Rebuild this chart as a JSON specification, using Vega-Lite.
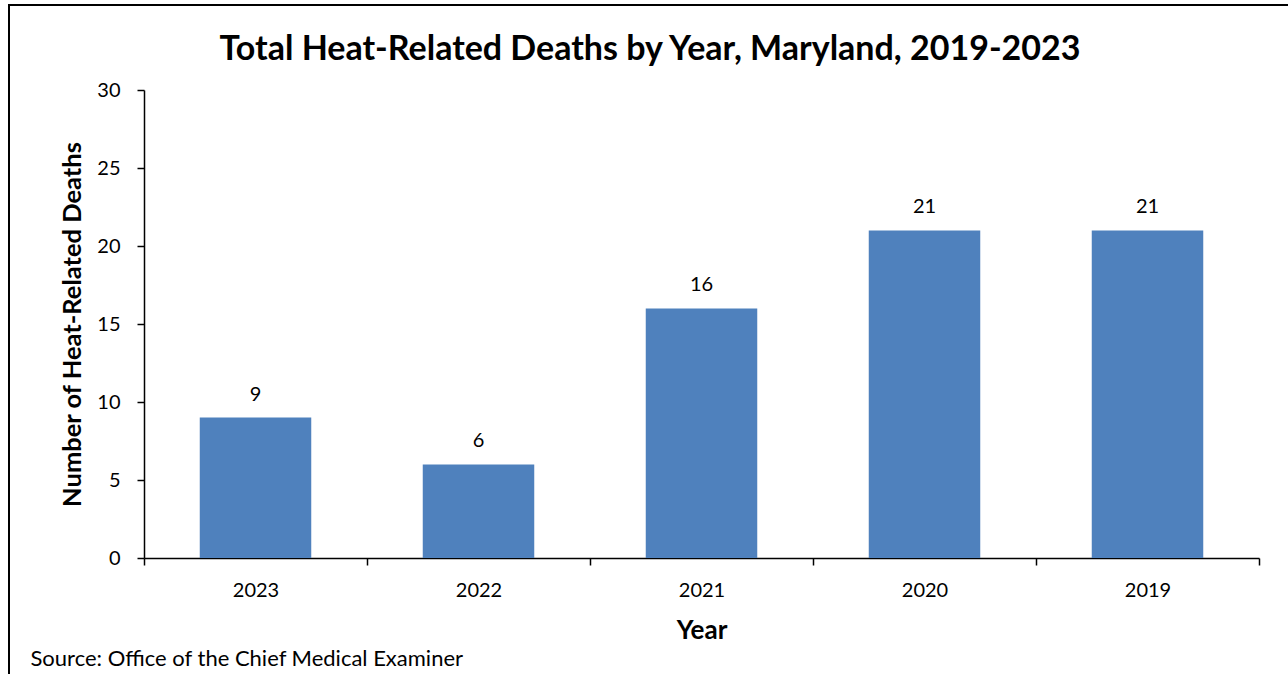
{
  "$schema": "https://vega.github.io/schema/vega-lite/v6.json",
  "autosize": "none",
  "width": 1300,
  "height": 700,
  "padding": {"left": 9, "top": 5, "right": 0, "bottom": 0},
  "background": "white",
  "config": {
    "font": "Lato",
    "view": {"stroke": "black", "strokeWidth": 2},
    "axis": {"grid": false, "domainColor": "black", "tickColor": "black", "domainWidth": 1.5, "tickWidth": 1.5, "labelColor": "black", "titleColor": "black", "labelFont": "Lato", "titleFont": "Lato"}
  },
  "title": {
    "text": "Total Heat-Related Deaths by Year, Maryland, 2019-2023",
    "font": "Lato",
    "fontSize": 34,
    "fontWeight": "bold",
    "color": "black",
    "anchor": "middle",
    "dx": -9,
    "offset": -62
  },
  "data": {
    "values": [
      {"Year": "2023", "Deaths": 9},
      {"Year": "2022", "Deaths": 6},
      {"Year": "2021", "Deaths": 16},
      {"Year": "2020", "Deaths": 21},
      {"Year": "2019", "Deaths": 21}
    ]
  },
  "resolve": {"axis": {"x": "independent"}},
  "layer": [
    {
      "mark": {"type": "bar", "color": "#4f81bd", "width": {"band": 0.5}},
      "encoding": {
        "x": {
          "field": "Year", "type": "nominal",
          "sort": ["2023", "2022", "2021", "2020", "2019"],
          "scale": {"range": [135, 1250], "paddingInner": 0, "paddingOuter": 0},
          "axis": {"orient": "bottom", "offset": -147, "title": "Year", "titleFontSize": 26, "titleFontWeight": "bold", "titlePadding": 17, "labelFontSize": 20, "labelAngle": 0, "labelPadding": 15, "tickSize": 7, "tickBand": "extent"}
        },
        "y": {
          "field": "Deaths", "type": "quantitative",
          "scale": {"domain": [0, 30], "range": [553, 85], "nice": false, "zero": true},
          "axis": {"values": [0, 5, 10, 15, 20, 25, 30], "offset": -135, "title": "Number of Heat-Related Deaths", "titleFontSize": 25.5, "titleFontWeight": "bold", "titlePadding": 11, "labelFontSize": 20, "labelPadding": 17, "tickSize": 7}
        }
      }
    },
    {
      "mark": {"type": "text", "fontSize": 20, "baseline": "bottom", "dy": -13, "color": "black", "font": "Lato"},
      "encoding": {
        "x": {
          "field": "Year", "type": "nominal",
          "sort": ["2023", "2022", "2021", "2020", "2019"],
          "axis": {"orient": "bottom", "offset": -147, "labels": false, "ticks": false, "domain": false, "title": "Source: Office of the Chief Medical Examiner", "titleFontSize": 22, "titleFontWeight": "normal", "titleAlign": "left", "titleBaseline": "middle", "titleAnchor": null, "titleX": 21, "titleY": 100}
        },
        "y": {"field": "Deaths", "type": "quantitative"},
        "text": {"field": "Deaths", "type": "quantitative"}
      }
    }
  ]
}
